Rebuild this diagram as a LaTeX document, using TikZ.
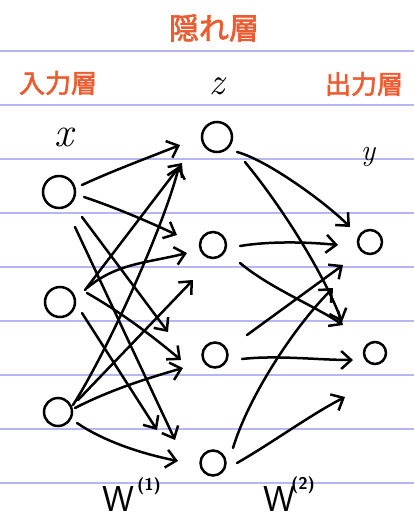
\documentclass[tikz,border=0pt]{standalone}
\usepackage{fontspec}
\newfontfamily\jpfont[AutoFakeBold=2.2]{Noto Sans CJK JP}
\usetikzlibrary{arrows.meta,calc}
\definecolor{paperline}{RGB}{182,182,242}
\definecolor{jporange}{RGB}{236,92,48}
\begin{document}
\begin{tikzpicture}[x=1pt,y=-1pt,
  neuron/.style={circle,draw,line width=2.5pt,inner sep=0pt},
  arr/.style={line width=2.5pt,line cap=round,line join=round,
    -{Straight Barb[length=10pt,width=18pt]}},
  layerlbl/.style={text=jporange,inner sep=0pt},
  varlbl/.style={inner sep=0pt},
  ]
\useasboundingbox (0,0) rectangle (414,520);
\fill[white] (0,0) rectangle (414,520);
\foreach \yy in {51,105,...,483} \draw[paperline,line width=1.1pt] (0,\yy) -- (414,\yy);

% layer titles
\node[layerlbl,font=\jpfont\bfseries\fontsize{30}{30}\selectfont] (hid) at (214,28) {隠れ層};
\node[layerlbl,font=\jpfont\bfseries\fontsize{26}{26}\selectfont] (inl) at (58,83) {入力層};
\node[layerlbl,font=\jpfont\bfseries\fontsize{26}{26}\selectfont] (outl) at (364,84) {出力層};

% variable labels
\node[varlbl,font=\fontsize{42}{42}\selectfont\itshape] (lx) at (64,137) {x};
\node[varlbl,font=\fontsize{38}{38}\selectfont\itshape] (lz) at (217,86) {z};
\node[varlbl,font=\fontsize{30}{30}\selectfont\itshape] (ly) at (368,157) {y};

% neurons
\node[neuron,minimum size=32pt] (x1) at (59,192) {};
\node[neuron,minimum size=30pt] (x2) at (60,302) {};
\node[neuron,minimum size=28pt] (x3) at (58,412) {};
\node[neuron,minimum size=30pt] (z1) at (217,137) {};
\node[neuron,minimum size=26pt] (z2) at (213,245) {};
\node[neuron,minimum size=25pt] (z3) at (215,355) {};
\node[neuron,minimum size=25pt] (z4) at (213,463) {};
\node[neuron,minimum size=24pt] (y1) at (370,242) {};
\node[neuron,minimum size=22pt] (y2) at (375,353) {};

% weights labels
\node[varlbl,font=\sffamily\fontsize{36}{36}\selectfont] (w1) at (118,499) {W};
\node[varlbl,font=\sffamily\bfseries\fontsize{17}{17}\selectfont] (w1s) at (149,486) {(1)};
\node[varlbl,font=\sffamily\fontsize{36}{36}\selectfont] (w2) at (279,499) {W};
\node[varlbl,font=\sffamily\bfseries\fontsize{17}{17}\selectfont] (w2s) at (303,485) {(2)};

% input -> hidden
\draw[arr] ($(x1)+(23,-7)$) .. controls +(30,-14) and +(-30,12) .. ($(z1)+(-37,8)$);
\draw[arr] ($(x1)+(25,5)$) .. controls +(30,10) and +(-30,-14) .. ($(z2)+(-36,-10)$);
\draw[arr] ($(x1)+(23,25)$) -- ($(z3)+(-47,-23)$);
\draw[arr] ($(x1)+(16,35)$) -- ($(z4)+(-38,-23)$);
\draw[arr] ($(x2)+(25,-12)$) -- ($(z1)+(-35,26)$);
\draw[arr] ($(x2)+(27,-14)$) .. controls +(30,-25) and +(-40,10) .. ($(z2)+(-26,8)$);
\draw[arr] ($(x2)+(27,-9)$) .. controls +(35,20) and +(-30,-25) .. ($(z3)+(-34,5)$);
\draw[arr] ($(x2)+(22,11)$) -- ($(z4)+(-56,-33)$);
\draw[arr] ($(x3)+(15,-7)$) .. controls +(35,-55) and +(-15,60) .. ($(z1)+(-38,29)$);
\draw[arr] ($(x3)+(20,-12)$) -- ($(z2)+(-20,35)$);
\draw[arr] ($(x3)+(17,-4)$) .. controls +(35,-18) and +(-35,10) .. ($(z3)+(-32,13)$);
\draw[arr] ($(x3)+(19,11)$) .. controls +(25,17) and +(-40,-8) .. ($(z4)+(-35,-2)$);

% hidden -> output
\draw[arr] ($(z1)+(20,15)$) .. controls +(30,8) and +(-25,-25) .. ($(y1)+(-20,-15)$);
\draw[arr] ($(z1)+(28,25)$) .. controls +(45,55) and +(-15,-40) .. ($(y2)+(-33,-31)$);
\draw[arr] ($(z2)+(27,1)$) .. controls +(30,-5) and +(-30,-3) .. ($(y1)+(-32,3)$);
\draw[arr] ($(z2)+(27,18)$) .. controls +(30,25) and +(-30,-20) .. ($(y2)+(-32,-28)$);
\draw[arr] ($(z3)+(32,-20)$) -- ($(y1)+(-27,23)$);
\draw[arr] ($(z3)+(27,4)$) .. controls +(35,-4) and +(-35,0) .. ($(y2)+(-22,7)$);
\draw[arr] ($(z4)+(20,-15)$) .. controls +(15,-50) and +(-40,40) .. ($(y1)+(-37,46)$);
\draw[arr] ($(z4)+(24,0)$) .. controls +(35,-20) and +(-35,18) .. ($(y2)+(-30,44)$);
\end{tikzpicture}
\end{document}
